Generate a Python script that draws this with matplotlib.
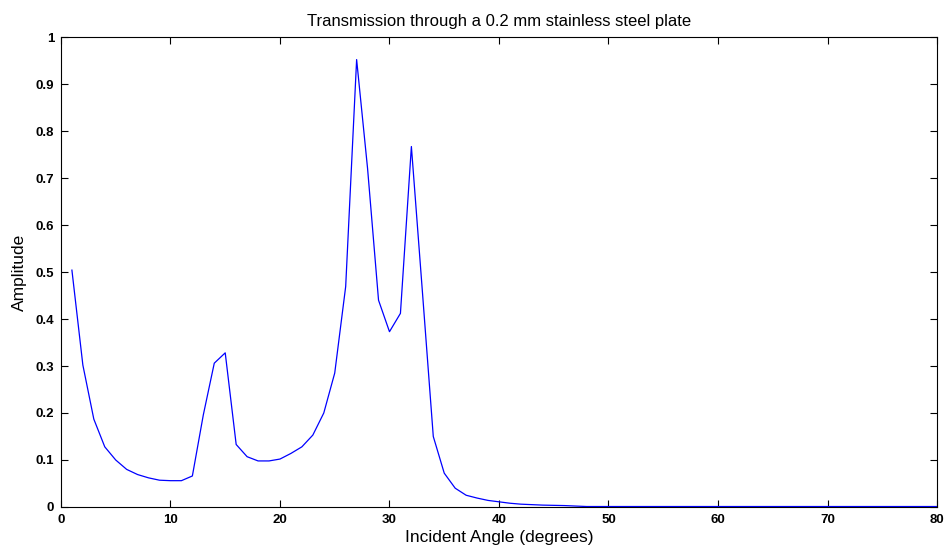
import numpy as np
import matplotlib.pyplot as plt

plt.rcParams['font.family'] = ['Liberation Sans', 'DejaVu Sans']

# incident angle in degrees, 1..80
angle = np.arange(1, 81)
amp_head = [0.504, 0.302, 0.187, 0.128, 0.100, 0.080, 0.069, 0.062, 0.057, 0.056,
            0.056, 0.066, 0.196, 0.306, 0.328, 0.133, 0.107, 0.098, 0.098, 0.102,
            0.114, 0.128, 0.153, 0.200, 0.285, 0.469, 0.952, 0.720, 0.440, 0.373,
            0.412, 0.767, 0.460, 0.150, 0.072, 0.040, 0.025, 0.019, 0.014, 0.011,
            0.008, 0.006, 0.005, 0.004, 0.0035, 0.003, 0.002]
amp_tail = [0.001] * (80 - len(amp_head))
amplitude = amp_head + amp_tail

fig = plt.figure(figsize=(9.51, 5.55), dpi=100)
ax = fig.add_axes([0.0641, 0.0865, 0.9212, 0.8468])
ax.plot(angle, amplitude, color='#0000ff', lw=0.9)

ax.set_xlim(0, 80)
ax.set_ylim(0, 1)
ax.set_xticks(np.arange(0, 81, 10))
ax.set_yticks(np.arange(0, 1.01, 0.1))
ax.set_yticklabels(['0', '0.1', '0.2', '0.3', '0.4', '0.5', '0.6', '0.7', '0.8', '0.9', '1'])
ax.tick_params(direction='in', top=True, right=True, labelsize=9.5, length=5, width=0.8, pad=5)
for lab in ax.get_xticklabels() + ax.get_yticklabels():
    lab.set_fontweight('semibold')
for s in ax.spines.values():
    s.set_linewidth(0.8)

ax.set_xlabel('Incident Angle (degrees)', fontsize=12.5, labelpad=3)
ax.set_ylabel('Amplitude', fontsize=12.5, labelpad=6)
ax.set_title('Transmission through a 0.2 mm stainless steel plate', fontsize=12, pad=8)

fig.savefig('out.png', dpi=100)
